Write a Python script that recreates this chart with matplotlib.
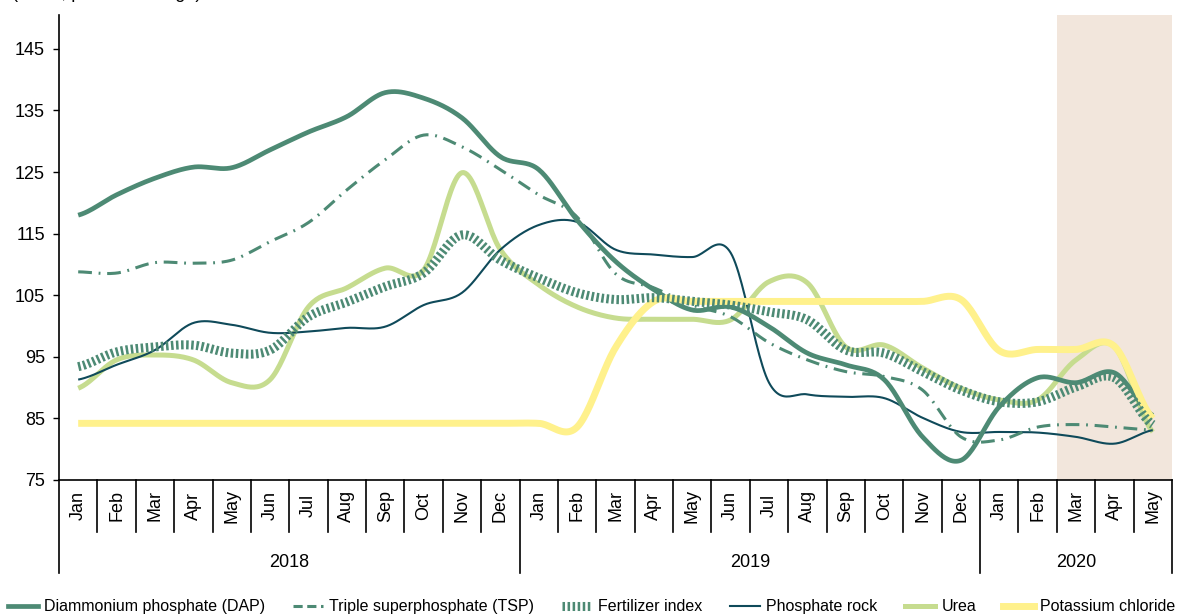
import numpy as np
import matplotlib
matplotlib.use("Agg")
import matplotlib.pyplot as plt
from matplotlib.lines import Line2D
from matplotlib import font_manager

# font: narrow sans if available
names = {f.name for f in font_manager.fontManager.ttflist}
fam = 'Liberation Sans Narrow' if 'Liberation Sans Narrow' in names else 'Liberation Sans'
plt.rcParams['font.family'] = [fam, 'DejaVu Sans']

# Data (monthly values)
months = ['Jan', 'Feb', 'Mar', 'Apr', 'May', 'Jun', 'Jul', 'Aug', 'Sep', 'Oct', 'Nov', 'Dec',
          'Jan', 'Feb', 'Mar', 'Apr', 'May', 'Jun', 'Jul', 'Aug', 'Sep', 'Oct', 'Nov', 'Dec',
          'Jan', 'Feb', 'Mar', 'Apr', 'May']
years = ['2018', '2019', '2020']
year_start = [0, 12, 24]

dap = [118.0, 121.3, 124.0, 125.8, 125.7, 128.6, 131.5, 134.0, 137.9, 137.0, 133.8, 127.5,
       125.4, 117.2, 110.5, 105.9, 102.6, 103.1, 99.9, 95.6, 93.7, 91.3, 82.0, 78.2,
       86.9, 91.6, 90.8, 92.4, 85.5]
tsp = [108.8, 108.6, 110.3, 110.2, 110.7, 113.7, 116.8, 122.1, 127.0, 131.0, 129.1, 125.4,
       121.3, 117.7, 108.5, 106.2, 103.4, 101.5, 97.3, 94.5, 92.6, 91.8, 89.6, 82.0,
       81.5, 83.6, 84.0, 83.6, 83.1]
fert = [93.4, 95.8, 96.6, 96.9, 95.6, 96.1, 101.5, 103.9, 106.4, 108.6, 114.8, 110.7,
        107.8, 105.4, 104.3, 104.6, 104.0, 103.4, 102.3, 101.0, 96.1, 95.6, 92.6, 89.6,
        87.7, 87.7, 90.1, 91.6, 84.0]
rock = [91.3, 93.7, 96.1, 100.5, 100.2, 98.9, 99.1, 99.7, 99.9, 103.4, 105.4, 112.4,
        116.4, 116.9, 112.4, 111.6, 111.2, 111.9, 90.8, 88.9, 88.5, 88.3, 85.1, 82.8,
        82.8, 82.7, 82.0, 80.9, 83.1]
urea = [89.9, 94.5, 95.3, 94.5, 90.8, 91.3, 103.1, 106.2, 109.4, 109.1, 124.9, 112.4,
        106.7, 103.1, 101.3, 101.1, 101.1, 101.0, 107.2, 107.0, 96.6, 96.9, 93.2, 89.9,
        88.0, 88.0, 94.5, 96.6, 82.8]
potash = [84.2, 84.2, 84.2, 84.2, 84.2, 84.2, 84.2, 84.2, 84.2, 84.2, 84.2, 84.2,
          84.2, 83.6, 96.5, 104.0, 104.0, 104.0, 104.0, 104.0, 104.0, 104.0, 104.0, 104.3,
          96.0, 96.2, 96.2, 96.7, 85.0]

green = '#4d8a74'
teal = '#0f4a5a'
lgreen = '#c6dc8f'
yellow = '#fff18c'
shade = '#f2e6dc'


def smooth(y, n=24):
    # Catmull-Rom curve through the monthly points
    y = np.asarray(y, float)
    xs, ys = [], []
    for i in range(len(y) - 1):
        p0 = y[i - 1] if i > 0 else y[i]
        p1, p2 = y[i], y[i + 1]
        p3 = y[i + 2] if i + 2 < len(y) else y[i + 1]
        t = np.linspace(0, 1, n, endpoint=False)
        v = 0.5 * (2 * p1 + (-p0 + p2) * t + (2 * p0 - 5 * p1 + 4 * p2 - p3) * t ** 2
                   + (-p0 + 3 * p1 - 3 * p2 + p3) * t ** 3)
        xs.append(i + t)
        ys.append(v)
    xs.append([len(y) - 1])
    ys.append([y[-1]])
    return np.concatenate(xs), np.concatenate(ys)


fig = plt.figure(figsize=(11.83, 6.14), dpi=100)
ax = fig.add_axes([59 / 1183, 134 / 614, 1113 / 1183, 465 / 614])

ax.axvspan(25.5, 28.5, color=shade, lw=0, zorder=0)

styles = [
    (urea, dict(color=lgreen, lw=3.6)),
    (rock, dict(color=teal, lw=1.5)),
    (tsp, dict(color=green, lw=2.2, linestyle=(0, (4.5, 2.2, 0.6, 2.2)))),
    (dap, dict(color=green, lw=3.4)),
    (potash, dict(color=yellow, lw=5)),
    (fert, dict(color=green, lw=6.5, linestyle=(0, (0.28, 0.28)))),
]
for vals, st in styles:
    x, y = smooth(vals)
    ax.plot(x, y, solid_capstyle='butt', dash_capstyle='butt', **st)

ax.set_xlim(-0.5, 28.5)
ax.set_ylim(75, 150.5)
ax.set_yticks(range(75, 146, 10))
ax.set_xticks([])
ax.tick_params(axis='y', direction='out', length=4, width=1, labelsize=13, pad=6)
for s in ['top', 'right']:
    ax.spines[s].set_visible(False)
for s in ['left', 'bottom']:
    ax.spines[s].set_linewidth(1.2)

# month / year category axis
trans = ax.get_xaxis_transform()
for i, m in enumerate(months):
    ax.text(i, -0.055, m, transform=trans, rotation=90, ha='center', va='center', fontsize=13)
for b in range(1, len(months)):
    if b in year_start:
        continue
    ax.plot([b - 0.5, b - 0.5], [0, -0.112], transform=trans, color='black', lw=1.2, clip_on=False)
for k, yr in enumerate(years):
    s = year_start[k]
    e = year_start[k + 1] if k + 1 < len(years) else len(months)
    ax.text((s + e - 1) / 2, -0.178, yr, transform=trans, ha='center', va='center', fontsize=13)
for b in year_start + [len(months)]:
    ax.plot([b - 0.5, b - 0.5], [0, -0.2], transform=trans, color='black', lw=1.2, clip_on=False)

# unit note, cut off at the top edge as in the source
fig.text(12 / 1183, 1.004, '(index, percent change)', ha='left', va='baseline', fontsize=13)

labels = ['Diammonium phosphate (DAP)', 'Triple superphosphate (TSP)', 'Fertilizer index',
          'Phosphate rock', 'Urea', 'Potassium chloride']
handles = [
    Line2D([], [], color=green, lw=3.4),
    Line2D([], [], color=green, lw=2.2, linestyle=(0, (3, 1.5))),
    Line2D([], [], color=green, lw=6.5, linestyle=(0, (0.28, 0.28))),
    Line2D([], [], color=teal, lw=1.5),
    Line2D([], [], color=lgreen, lw=3.6),
    Line2D([], [], color=yellow, lw=5),
]
fig.legend(handles, labels, loc='lower center', bbox_to_anchor=(0.5, -0.024), ncol=6,
           frameon=False, fontsize=11.5, handlelength=1.9, columnspacing=1.7, handletextpad=0.4)

fig.savefig('out.png', dpi=100)
